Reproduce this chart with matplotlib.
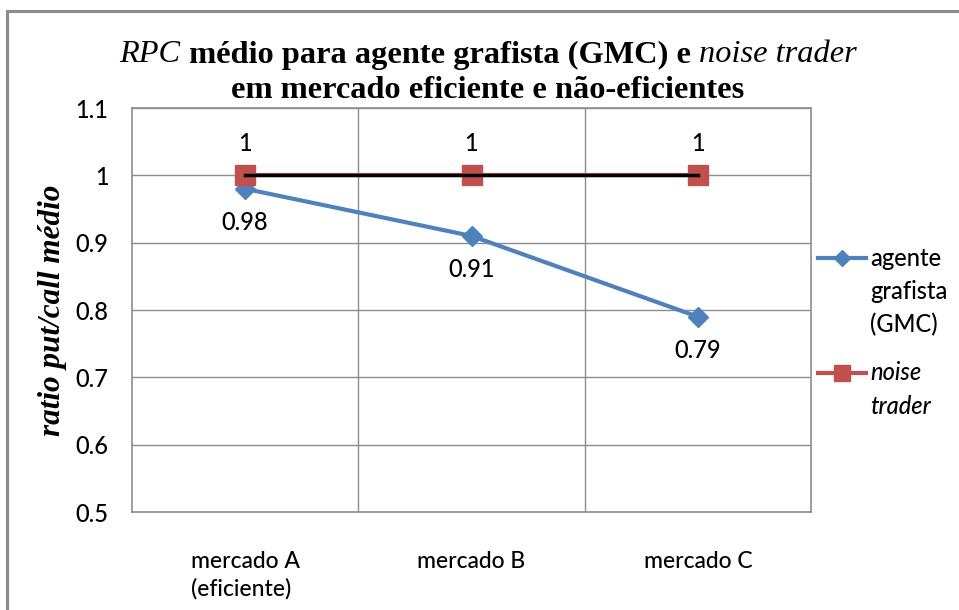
import matplotlib
matplotlib.use('Agg')
import matplotlib.pyplot as plt
from matplotlib.lines import Line2D

# data
categories = ['mercado A\n(eficiente)', 'mercado B', 'mercado C']
grafista = [0.98, 0.91, 0.79]
noise = [1, 1, 1]
yticks = [0.5, 0.6, 0.7, 0.8, 0.9, 1.0, 1.1]
ytick_labels = ['0.5', '0.6', '0.7', '0.8', '0.9', '1', '1.1']

blue = '#4F81BD'
red = '#C0504D'
grid = '#8C8C8C'
sans = 'Lato'
serif = 'Liberation Serif'
fs = 17

W, H = 959, 610
fig = plt.figure(figsize=(W / 100, H / 100), dpi=100)
ax = fig.add_axes([132 / W, 98 / H, 679 / W, 404 / H])

x = list(range(len(categories)))
ax.plot(x, grafista, color=blue, lw=3, marker='D', ms=10, zorder=3)
ax.plot(x, noise, color=red, lw=3, marker='s', ms=14, ls='-', zorder=4)
ax.plot(x, noise, color='black', lw=2.5, zorder=5)

for i, v in enumerate(noise):
    ax.annotate(f'{v:g}', (i, v), xytext=(0, 23), textcoords='offset points',
                ha='center', va='center', fontsize=fs, family=sans, fontweight='medium')
for i, v in enumerate(grafista):
    ax.annotate(f'{v:g}', (i, v), xytext=(0, -24), textcoords='offset points',
                ha='center', va='center', fontsize=fs, family=sans, fontweight='medium')

ax.set_xlim(-0.5, len(categories) - 0.5)
ax.set_ylim(0.5, 1.1)
ax.set_yticks(yticks)
ax.set_yticklabels(ytick_labels, fontsize=fs, family=sans, fontweight='medium')
ax.set_xticks(x)
ax.set_xticklabels(categories, fontsize=fs - 0.5, family=sans, linespacing=1.35,
                   va='top', fontweight='medium')
ax.tick_params(axis='both', length=0)
ax.tick_params(axis='y', pad=17)
ax.tick_params(axis='x', pad=28)
for lbl in ax.get_xticklabels():
    lbl.set_multialignment('left')

# category grid (between categories) and value grid
for b in [0.5, 1.5]:
    ax.axvline(b, color=grid, lw=1, zorder=1)
ax.yaxis.grid(True, color=grid, lw=1, zorder=1)
ax.set_axisbelow(True)
for s in ax.spines.values():
    s.set_color(grid)
    s.set_linewidth(1.2)

ax.set_ylabel('ratio put/call médio', family=serif, style='italic',
              fontweight='bold', fontsize=22.5, labelpad=6)

# title with mixed italic / bold pieces
renderer = fig.canvas.get_renderer()


def draw_segments(y, segments, cx):
    texts = []
    for s, style, weight in segments:
        t = fig.text(0, y / H, s, family=serif, style=style, fontweight=weight,
                     fontsize=23.3, va='center', ha='left')
        texts.append(t)
    widths = [t.get_window_extent(renderer).width for t in texts]
    left = cx - sum(widths) / 2
    for t, w in zip(texts, widths):
        t.set_x(left / W)
        left += w


draw_segments(H - 55, [('RPC', 'italic', 'normal'),
                       (' médio para agente grafista (GMC) e ', 'normal', 'bold'),
                       ('noise trader', 'italic', 'normal')], 488)
draw_segments(H - 90, [('em mercado eficiente e não-eficientes', 'normal', 'bold')], 488)


# legend drawn at the right
def legend_entry(y, color, marker, ms, lines, style):
    fy = (H - y) / H
    fig.add_artist(Line2D([818 / W, 866 / W], [fy, fy], color=color, lw=3))
    fig.add_artist(Line2D([842 / W], [fy], color=color, marker=marker, ms=ms, lw=0))
    for k, s in enumerate(lines):
        fig.text(870 / W, (H - y - 33.5 * k) / H, s, family=sans, style=style,
                 fontsize=fs, va='center', ha='left', fontweight='medium')


legend_entry(258, blue, 'D', 8, ['agente', 'grafista', '(GMC)'], 'normal')
legend_entry(373, red, 's', 11, ['noise', 'trader'], 'italic')

# outer chart border
fig.add_artist(Line2D([7 / W, 7 / W], [0, (H - 11) / H], color=grid, lw=2.2))
fig.add_artist(Line2D([7 / W, 1], [(H - 11) / H] * 2, color=grid, lw=2.2))

fig.savefig('out.png', dpi=100)
